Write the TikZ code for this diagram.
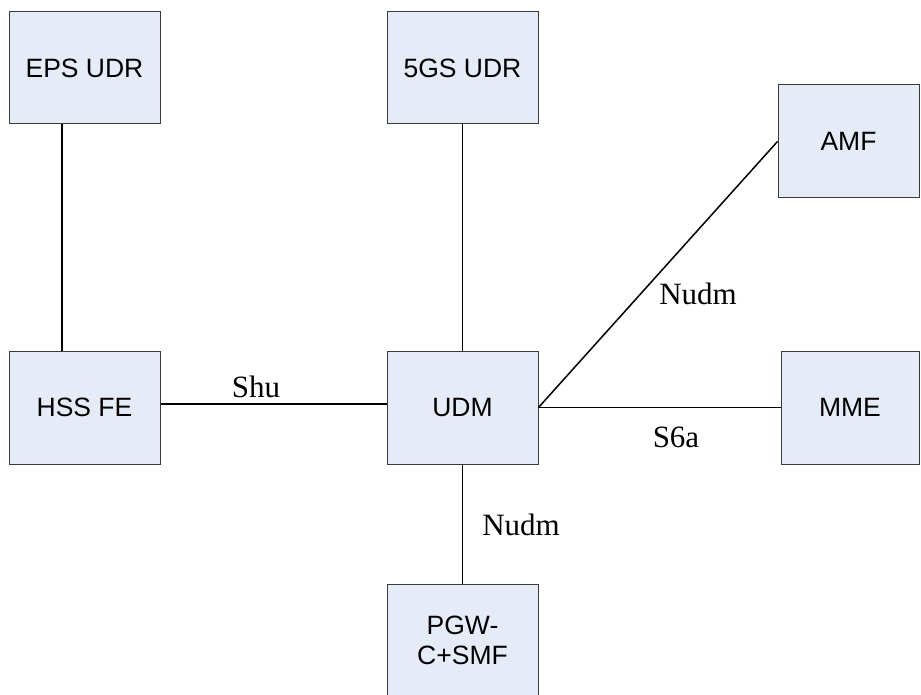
\documentclass[tikz,border=0pt]{standalone}
\usepackage{fontspec}
\setmainfont{Liberation Serif}
\newfontfamily\boxfont{Liberation Sans}
\definecolor{boxfill}{HTML}{E6ECF7}
\definecolor{boxline}{HTML}{3A3A3A}
\begin{document}
\begin{tikzpicture}[x=1pt,y=-1pt,
  nf/.style={draw=boxline,fill=boxfill,line width=1pt,minimum width=151pt,minimum height=112pt,inner sep=0pt,font=\boxfont\fontsize{26.5}{30}\selectfont,align=center},
  conn/.style={line width=1.5pt,black},
  lbl/.style={font=\fontsize{31}{34}\selectfont,inner sep=0pt}]
\clip (0,0) rectangle (921,695);
\fill[white] (0,0) rectangle (921,695);
\node[nf] (eps) at (84.5,68) {EPS UDR};
\node[nf] (g5) at (462.5,68) {5GS UDR};
\node[nf,minimum width=141pt,minimum height=113pt] (amf) at (848.5,141.5) {AMF};
\node[nf,minimum height=113pt] (hss) at (84.5,407.5) {HSS FE};
\node[nf,minimum height=113pt] (udm) at (462.5,407.5) {UDM};
\node[nf,minimum width=138pt,minimum height=113pt] (mme) at (850,407.5) {MME};
\node[nf,minimum height=113pt] (pgw) at (462.5,640.5) {PGW-\\C+SMF};
\draw[conn] ([xshift=-22.5pt]eps.south) -- ([xshift=-22.5pt]hss.north);
\draw[conn] (g5.south) -- (udm.north);
\draw[conn] ([yshift=3.5pt]hss.east) -- ([yshift=3.5pt]udm.west);
\draw[conn] (udm.east) -- (amf.west);
\draw[conn] (udm.east) -- (mme.west);
\draw[conn] (udm.south) -- (pgw.north);
\node[lbl] (shu) at (256,387) {Shu};
\node[lbl] (nudm1) at (698,294) {Nudm};
\node[lbl] (s6a) at (676,437) {S6a};
\node[lbl] (nudm2) at (521,525) {Nudm};
\end{tikzpicture}
\end{document}
